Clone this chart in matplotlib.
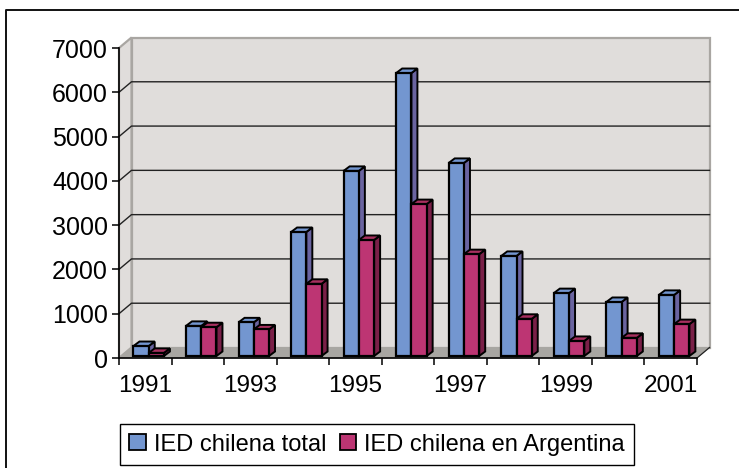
import matplotlib
matplotlib.use('Agg')
import matplotlib.pyplot as plt
from matplotlib.patches import Patch

plt.rcParams['font.family'] = ['Liberation Sans', 'DejaVu Sans']

years = list(range(1991, 2002))
total = [225, 680, 760, 2800, 4180, 6390, 4360, 2260, 1420, 1220, 1380]
argentina = [70, 650, 600, 1630, 2620, 3430, 2300, 840, 340, 410, 720]
y_ticks = [0, 1000, 2000, 3000, 4000, 5000, 6000, 7000]

W, H = 739, 468
fig = plt.figure(figsize=(W / 100, H / 100), dpi=100)
fig.patch.set_facecolor('white')

# front plane of the fake 3d box, in pixels
left, right, bottom, top = 119, 697, 358, 48
ax = fig.add_axes([left / W, 1 - bottom / H, (right - left) / W, (bottom - top) / H])
ax.set_xlim(0, 11)
ax.set_ylim(0, 7000)
ax.patch.set_alpha(0)

px_x = 11 / (right - left)
px_y = 7000 / (bottom - top)
wall_dx = 12.5 * px_x
wall_dy = 10.5 * px_y
wall_c = '#e0dddb'
edge_c = '#a9a6a2'

# back wall, side wall, floor
ax.fill([wall_dx, 11 + wall_dx, 11 + wall_dx, wall_dx],
        [wall_dy, wall_dy, 7000 + wall_dy, 7000 + wall_dy],
        fc=wall_c, ec=edge_c, lw=1.6, zorder=1, clip_on=False)
ax.fill([0, wall_dx, wall_dx, 0], [0, wall_dy, 7000 + wall_dy, 7000],
        fc=wall_c, ec=edge_c, lw=1.6, zorder=1, clip_on=False)
ax.fill([0, 11, 11 + wall_dx, wall_dx], [0, 0, wall_dy, wall_dy],
        fc='#a8a6a2', ec='#a8a6a2', lw=0.5, zorder=1, clip_on=False)

for t in y_ticks[1:-1]:
    ax.plot([0, wall_dx, 11 + wall_dx], [t, t + wall_dy, t + wall_dy],
            color='#222222', lw=1.0, zorder=2, clip_on=False)
ax.plot([11, 11 + wall_dx], [0, wall_dy], color='#222222', lw=0.9, zorder=2, clip_on=False)

# bars with their depth faces
bar_w = 0.29
base = 2 * px_y
dx = 6 * px_x
dy = 4.5 * px_y


def draw_bars(values, offset, front, side, roof, z):
    xs = [i + offset for i in range(len(values))]
    for x, v in zip(xs, values):
        l, r = x - bar_w / 2, x + bar_w / 2
        t = base + v
        ax.fill([r, r + dx, r + dx, r], [base, base + dy, t + dy, t],
                fc=side, ec='black', lw=1.4, zorder=z, clip_on=False)
        ax.fill([l, r, r + dx, l + dx], [t, t, t + dy, t + dy],
                fc=roof, ec='black', lw=1.4, zorder=z, clip_on=False)
    ax.bar(xs, values, bar_w, bottom=base, color=front, edgecolor='black', lw=1.6, zorder=z + 0.5)


draw_bars(total, 0.42, '#7396d0', '#6a64a0', '#7396d0', 3)
draw_bars(argentina, 0.71, '#bd3573', '#7a2048', '#a8305f', 4)

# axes
for s in ['top', 'right']:
    ax.spines[s].set_visible(False)
for s in ['left', 'bottom']:
    ax.spines[s].set_linewidth(1.2)
    ax.spines[s].set_zorder(6)
ax.set_yticks(y_ticks)
ax.tick_params(axis='y', length=5, width=1.1, labelsize=18, pad=3)
ax.set_xticks(range(12))
ax.set_xticklabels([])
ax.tick_params(axis='x', length=5, width=1.1)
ax.set_xticks([i + 0.5 for i in range(0, 11, 2)], minor=True)
ax.set_xticklabels([str(years[i]) for i in range(0, 11, 2)], minor=True)
ax.tick_params(axis='x', which='minor', length=0, labelsize=17.5, pad=12)

# legend
handles = [Patch(fc='#7396d0', ec='black', lw=1.3, label='IED chilena total'),
           Patch(fc='#bd3573', ec='black', lw=1.3, label='IED chilena en Argentina')]
leg = fig.legend(handles=handles, ncol=2, loc='lower left',
                 bbox_to_anchor=(120 / W, 1 - 465 / H),
                 fontsize=17, fancybox=False, edgecolor='black', framealpha=1,
                 handlelength=0.68, handleheight=0.68, handletextpad=0.34, columnspacing=0.6,
                 borderaxespad=0, borderpad=0.4)
leg.get_frame().set_linewidth(1.0)

# chart area border: only top and left show in the picture
fig.add_artist(plt.Line2D([5.5 / W, 5.5 / W, 1], [0, 1 - 9.5 / H, 1 - 9.5 / H],
                          color='#111111', lw=1.4, transform=fig.transFigure))

fig.savefig('out.png', dpi=100)
